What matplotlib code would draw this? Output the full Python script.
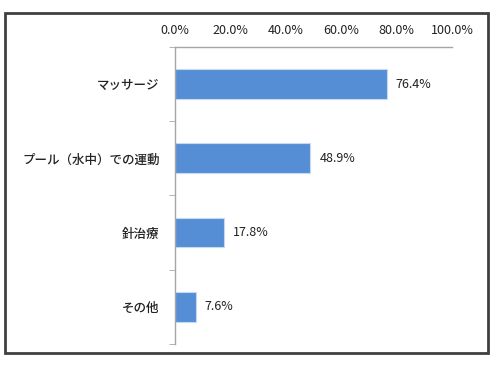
import matplotlib.pyplot as plt
from matplotlib.patches import Rectangle
from matplotlib.ticker import FuncFormatter

plt.rcParams['font.family'] = ['Noto Sans CJK JP', 'DejaVu Sans']

# data
categories = ["マッサージ", "プール（水中）での運動", "針治療", "その他"]
values = [76.4, 48.9, 17.8, 7.6]

fig = plt.figure(figsize=(5, 3.73), dpi=100)
ax = fig.add_axes([0.35, 0.078, 0.554, 0.796])

pos = list(range(len(categories)))
ax.barh(pos, values, height=0.4, color="#558ED5", edgecolor="#C6D9F1", linewidth=0.8)

for p, v in zip(pos, values):
    ax.text(v + 3.2, p, f"{v:.1f}%", va="center", ha="left", fontsize=9, color="#222222")

ax.set_xlim(0, 100)
ax.set_ylim(len(categories) - 0.5, -0.5)
ax.xaxis.tick_top()
ax.set_xticks([0, 20, 40, 60, 80, 100])
ax.xaxis.set_major_formatter(FuncFormatter(lambda x, _: f"{x:.1f}%"))
ax.tick_params(axis="x", length=0, pad=7, labelsize=9, labelcolor="#222222")

ax.set_yticks(pos)
ax.set_yticklabels(categories, fontsize=9, fontweight="medium", color="#222222")
ax.set_yticks([p + 0.5 for p in [-1] + pos], minor=True)
ax.tick_params(axis="y", which="major", length=0, pad=11)
ax.tick_params(axis="y", which="minor", length=4, color="#A6A6A6", direction="out")

for side in ["right", "bottom"]:
    ax.spines[side].set_visible(False)
for side in ["left", "top"]:
    ax.spines[side].set_color("#A6A6A6")
    ax.spines[side].set_linewidth(1)

# outer frame
fig.patches.append(Rectangle((0.009, 0.054), 0.966, 0.911, transform=fig.transFigure,
                             fill=False, edgecolor="#404040", linewidth=2))

fig.savefig("out.png", dpi=100)
